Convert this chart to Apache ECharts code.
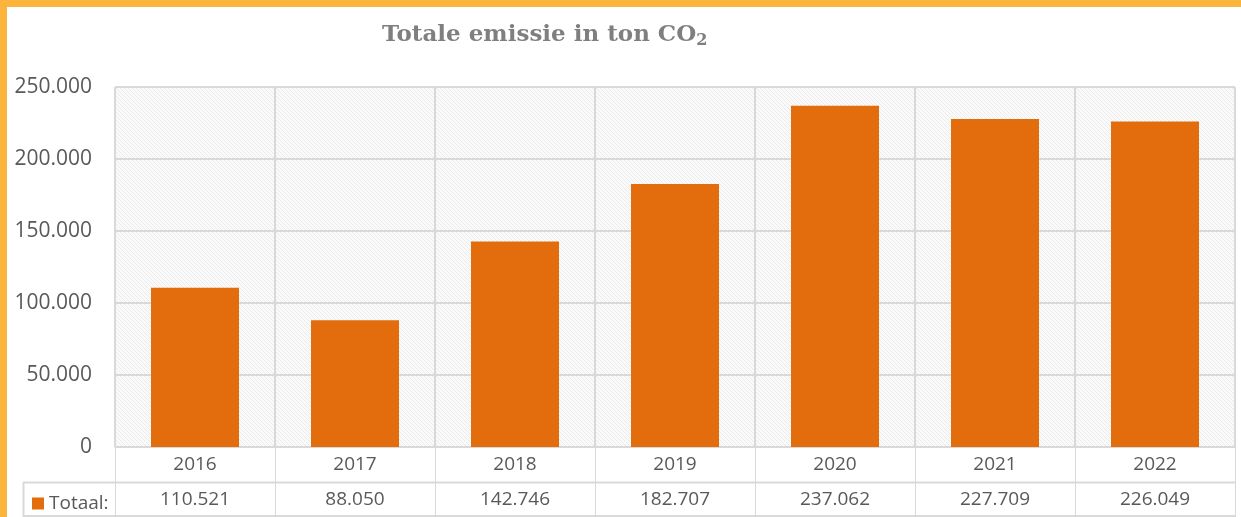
<!DOCTYPE html>
<html>
<head>
<meta charset="utf-8">
<script src="https://cdn.jsdelivr.net/npm/echarts@6/dist/echarts.min.js"></script>
<style>
  html, body { margin: 0; padding: 0; background: #fbb43c; }
  #chart { position: absolute; left: 7px; top: 7px; width: 1234px; height: 510px; background: #fff; }
</style>
</head>
<body>
<div id="chart"></div>
<script>
// data
var years = ['2016', '2017', '2018', '2019', '2020', '2021', '2022'];
var totaal = [110521, 88050, 142746, 182707, 237062, 227709, 226049];
var yTicks = { min: 0, max: 250000, interval: 50000 };

function fmt(v) {
    return String(v).replace(/\B(?=(\d{3})+(?!\d))/g, '.');
}

// faint diagonal hatch for plot area
var hatch = document.createElement('canvas');
hatch.width = 4; hatch.height = 4;
var hc = hatch.getContext('2d');
hc.fillStyle = '#fafafa';
hc.fillRect(0, 0, 4, 4);
hc.strokeStyle = '#ebebeb';
hc.lineWidth = 1;
hc.beginPath();
hc.moveTo(0, 0); hc.lineTo(4, 4);
hc.moveTo(-2, 2); hc.lineTo(2, 6);
hc.moveTo(2, -2); hc.lineTo(6, 2);
hc.stroke();

var font = '"Open Sans", "Noto Sans", sans-serif';
var txt = '#595959';
var lineC = '#d9d9d9';

var chart = echarts.init(document.getElementById('chart'));
var option = {
    backgroundColor: '#fff',
    animation: false,
    title: {
        text: 'Totale emissie in ton CO{s|2}',
        left: 370,
        top: 10,
        textStyle: {
            fontFamily: '"DejaVu Serif", serif',
            fontWeight: 'bold',
            fontSize: 23,
            color: '#7f7f7f',
            rich: {
                s: { fontFamily: '"DejaVu Serif", serif', fontWeight: 'bold', fontSize: 16, color: '#7f7f7f', padding: [11, 0, 0, 0] }
            }
        }
    },
    legend: {
        left: 20,
        top: 482,
        icon: 'rect',
        itemWidth: 12,
        itemHeight: 12,
        itemGap: 5,
        data: ['Totaal'],
        formatter: '{name}:',
        textStyle: { fontFamily: font, fontSize: 19, color: txt }
    },
    grid: {
        left: 108,
        right: 6,
        top: 80,
        bottom: 70,
        show: true,
        borderColor: lineC,
        borderWidth: 1,
        backgroundColor: { image: hatch, repeat: 'repeat' }
    },
    xAxis: {
        type: 'category',
        data: years,
        axisLine: { show: true, lineStyle: { color: lineC, width: 1 } },
        axisTick: { show: true, length: 70, lineStyle: { color: lineC, width: 1 } },
        splitLine: { show: true, lineStyle: { color: lineC, width: 2 } },
        axisLabel: {
            margin: 0,
            interval: 0,
            formatter: function (v, i) {
                return '{y|' + v + '}\n{v|' + fmt(totaal[i]) + '}';
            },
            rich: {
                y: { fontFamily: font, fontSize: 19, color: txt, lineHeight: 35, height: 35 },
                v: { fontFamily: font, fontSize: 19, color: txt, lineHeight: 35, height: 35 }
            }
        }
    },
    yAxis: {
        type: 'value',
        min: yTicks.min,
        max: yTicks.max,
        interval: yTicks.interval,
        axisLine: { show: false },
        axisTick: { show: false },
        splitLine: { lineStyle: { color: lineC, width: 2 } },
        axisLabel: {
            margin: 23,
            fontFamily: font,
            fontSize: 21,
            color: txt,
            formatter: function (v) { return fmt(v); }
        }
    },
    graphic: [
        { type: 'line', shape: { x1: 16, y1: 475.5, x2: 1228, y2: 475.5 }, style: { stroke: lineC, lineWidth: 2 }, silent: true },
        { type: 'line', shape: { x1: 16, y1: 509, x2: 1228, y2: 509 }, style: { stroke: lineC, lineWidth: 2 }, silent: true },
        { type: 'line', shape: { x1: 16.5, y1: 475, x2: 16.5, y2: 510 }, style: { stroke: lineC, lineWidth: 2 }, silent: true }
    ],
    series: [{
        name: 'Totaal',
        type: 'bar',
        data: totaal,
        barWidth: '55%',
        itemStyle: { color: '#e36c0c' }
    }]
};
chart.setOption(option);
</script>
</body>
</html>
